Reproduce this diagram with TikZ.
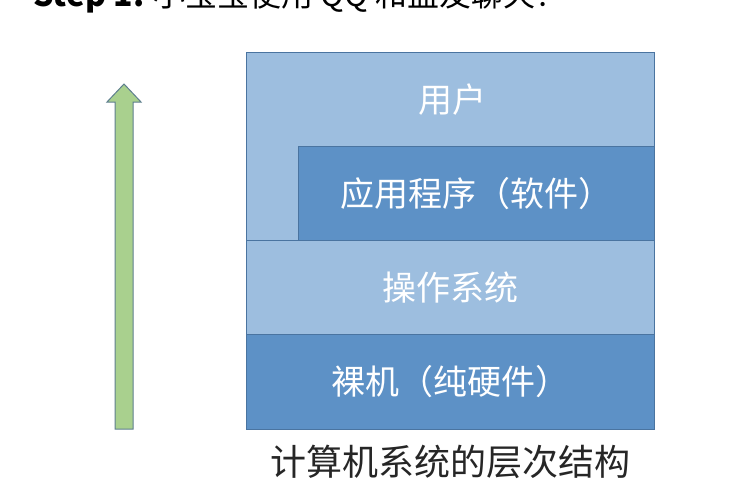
\documentclass[tikz,border=0pt]{standalone}
\usepackage{fontspec}
\newfontfamily\cjk{Noto Sans CJK SC}
\usetikzlibrary{positioning}
\definecolor{LayerLight}{HTML}{9DBEDF}
\definecolor{LayerDark}{HTML}{5D91C6}
\definecolor{LayerLine}{HTML}{4A74A0}
\definecolor{ArrowGreen}{HTML}{A9D08E}
\definecolor{ArrowLine}{HTML}{5E7F8E}
\tikzset{
  layer/.style={rectangle, draw=LayerLine, line width=0.8pt,
    anchor=north west, inner sep=0pt},
  lightlayer/.style={layer, fill=LayerLight},
  darklayer/.style={layer, fill=LayerDark},
  layertext/.style={text=white, inner sep=0pt,
    font=\cjk\fontsize{34}{40}\selectfont},
  caption/.style={text=black!85, inner sep=0pt,
    font=\cjk\fontsize{36}{42}\selectfont},
  uparrow/.style={fill=ArrowGreen, draw=ArrowLine, line width=1pt}
}

\begin{document}
\begin{tikzpicture}[x=1pt, y=-1pt]
\clip (0,0) rectangle (736,498);
\fill[white] (0,0) rectangle (736,498);

% title, cut off at the top edge
\node[anchor=base west, inner sep=0pt, font=\cjk\fontsize{32}{38}\selectfont]
  (title) at (33,6) {\textbf{Step 1:} 小宝宝使用 QQ 和盆友聊天？};

% layers
\node[lightlayer, minimum width=408pt, minimum height=188pt] (user) at (246,52) {};
\node[darklayer, minimum width=356pt, minimum height=94pt] (app) at (298,146) {};
\node[lightlayer, minimum width=408pt, minimum height=94pt] (os) at (246,240) {};
\node[darklayer, minimum width=408pt, minimum height=95pt] (hw) at (246,334) {};

\node[layertext] (userlabel) at (452,100) {用户};
\node[layertext] (applabel) at (app.center) {应用程序（软件）};
\node[layertext] (oslabel) at (os.center) {操作系统};
\node[layertext] (hwlabel) at (hw.center) {裸机（纯硬件）};

\node[caption, below=15pt of hw] (title2) {计算机系统的层次结构};

% upward arrow
\draw[uparrow] (115,429) -- (115,102) -- (107,102) -- (124,84)
  -- (141,102) -- (133,102) -- (133,429) -- cycle;

\end{tikzpicture}
\end{document}
